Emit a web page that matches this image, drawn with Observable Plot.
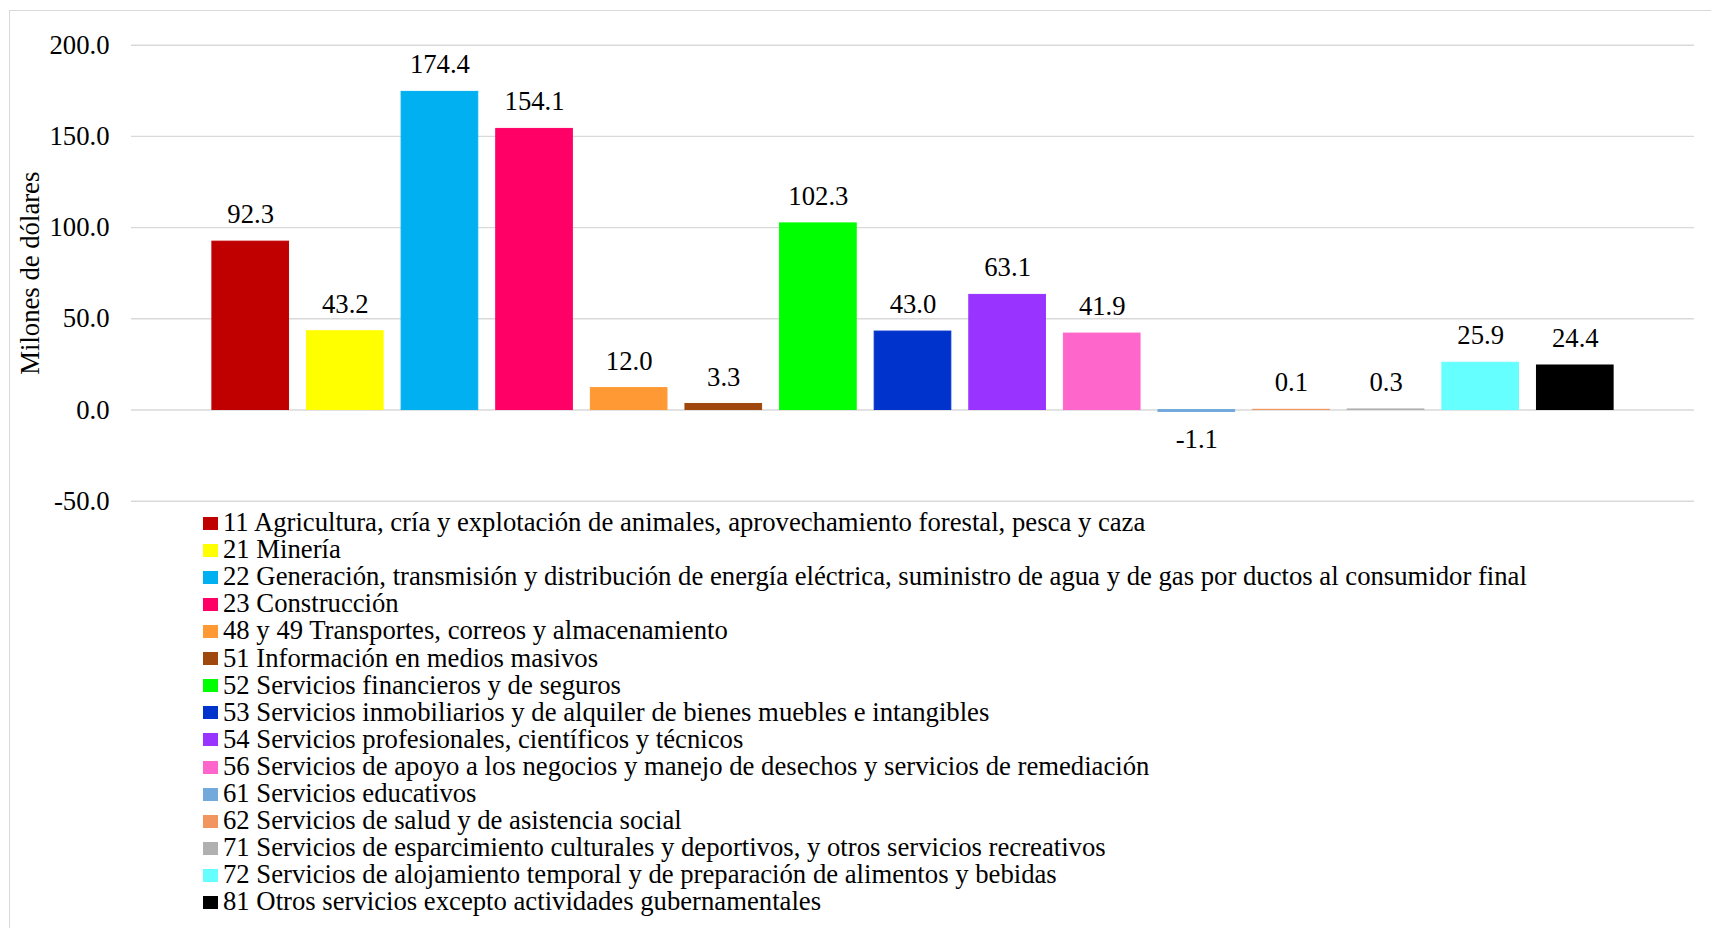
<!DOCTYPE html>
<html>
<head>
<meta charset="utf-8">
<script src="https://cdn.jsdelivr.net/npm/d3@7"></script>
<script src="https://cdn.jsdelivr.net/npm/@observablehq/plot@0.6"></script>
<style>
  html, body { margin: 0; padding: 0; background: #fff; overflow: hidden; width: 1711px; height: 928px; }
  #wrap { position: relative; width: 1711px; height: 928px; font-family: "Liberation Serif", "Times New Roman", serif; color: #000; }
  #frame { position: absolute; left: 8.5px; top: 9.5px; width: 1720px; height: 940px; border-left: 1.3px solid #d9d9d9; border-top: 1.3px solid #d9d9d9; box-sizing: border-box; }
  #chart { position: absolute; left: 0; top: 0; }
  #legend { position: absolute; left: 203px; top: 509.1px; font-size: 26.7px; line-height: 27.1px; }
  .row { position: relative; height: 27.1px; white-space: nowrap; }
  .sw { position: absolute; left: 0; top: 7.6px; width: 15px; height: 13px; }
  .lt { position: absolute; left: 20px; top: 0; }
</style>
</head>
<body>
<div id="wrap">
  <div id="frame"></div>
  <div id="chart"></div>
  <div id="legend"></div>
</div>
<script>
const sectors = [
  "11 Agricultura, cría y explotación de animales, aprovechamiento forestal, pesca y caza",
  "21 Minería",
  "22 Generación, transmisión y distribución de energía eléctrica, suministro de agua y de gas por ductos al consumidor final",
  "23 Construcción",
  "48 y 49 Transportes, correos y almacenamiento",
  "51 Información en medios masivos",
  "52 Servicios financieros y de seguros",
  "53 Servicios inmobiliarios y de alquiler de bienes muebles e intangibles",
  "54 Servicios profesionales, científicos y técnicos",
  "56 Servicios de apoyo a los negocios y manejo de desechos y servicios de remediación",
  "61 Servicios educativos",
  "62 Servicios de salud y de asistencia social",
  "71 Servicios de esparcimiento culturales y deportivos, y otros servicios recreativos",
  "72 Servicios de alojamiento temporal y de preparación de alimentos y bebidas",
  "81 Otros servicios excepto actividades gubernamentales"
];
const values = [92.3, 43.2, 174.4, 154.1, 12.0, 3.3, 102.3, 43.0, 63.1, 41.9, -1.1, 0.1, 0.3, 25.9, 24.4];
const palette = ["#C00000", "#FFFF00", "#00B0F0", "#FF0066", "#FF9933", "#9E480E", "#00FF00", "#0033CC",
                 "#9933FF", "#FF66CC", "#74A9DB", "#F0965E", "#B0B0B0", "#66FFFF", "#000000"];
const yTicks = [-50, 0, 50, 100, 150, 200];
const yLabel = "Milones de dólares";

const data = sectors.map((s, i) => ({sector: s, value: values[i]}));
const fmt = v => v.toFixed(1);

const chart = Plot.plot({
  width: 1711,
  height: 530,
  marginLeft: 131,
  marginRight: 17,
  marginTop: 44.7,
  marginBottom: 29.3,
  style: {fontFamily: "'Liberation Serif', 'Times New Roman', serif", fontSize: "26.7px", color: "#000", background: "transparent", overflow: "visible"},
  x: {domain: sectors, paddingInner: 0.19, paddingOuter: 0.855, round: false, axis: null},
  y: {domain: [-50, 200], ticks: yTicks},
  color: {domain: sectors, range: palette},
  marks: [
    Plot.ruleY(yTicks, {stroke: "#d9d9d9", strokeWidth: 1.4}),
    Plot.axisY(yTicks, {tickSize: 0, tickPadding: 22, tickFormat: fmt, fill: "#000",
      label: yLabel, labelAnchor: "center", labelArrow: "none", labelOffset: 111}),
    Plot.barY(data, {x: "sector", y: "value", fill: "sector", stroke: "sector", strokeWidth: 1}),
    Plot.text(data.filter(d => d.value >= 0), {x: "sector", y: "value", text: d => fmt(d.value), dy: -27, fill: "#000"}),
    Plot.text(data.filter(d => d.value < 0), {x: "sector", y: "value", text: d => fmt(d.value), dy: 27, fill: "#000"})
  ]
});
document.getElementById("chart").appendChild(chart);

const legend = document.getElementById("legend");
sectors.forEach((s, i) => {
  const row = document.createElement("div");
  row.className = "row";
  const sw = document.createElement("span");
  sw.className = "sw";
  sw.style.background = palette[i];
  const t = document.createElement("span");
  t.className = "lt";
  t.textContent = s;
  row.appendChild(sw);
  row.appendChild(t);
  legend.appendChild(row);
});
</script>
</body>
</html>
